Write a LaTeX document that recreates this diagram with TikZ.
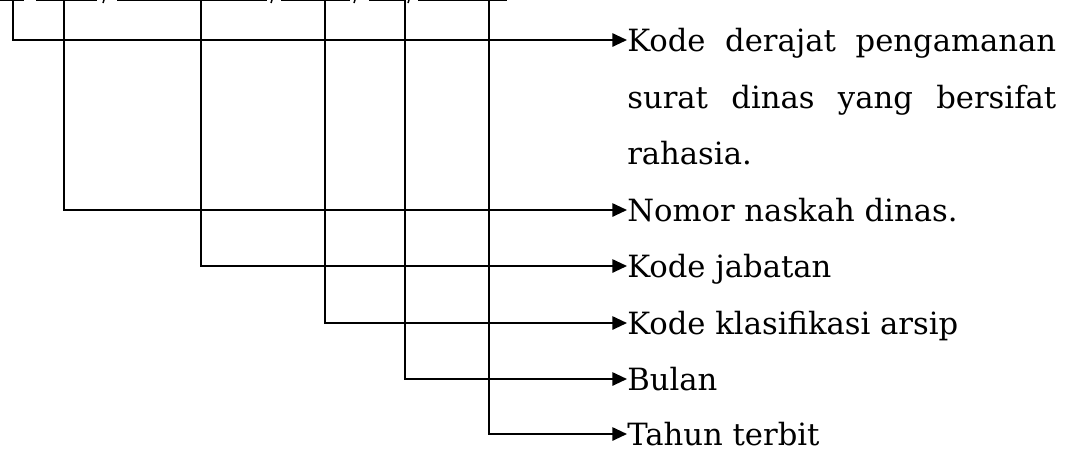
\documentclass[tikz,border=0pt]{standalone}
\usepackage{fontspec}
\setmainfont{DejaVu Serif}
\usetikzlibrary{arrows.meta}
\tikzset{
  conn/.style={line width=1.4pt, -{Triangle[length=11pt,width=10pt]}},
  rule/.style={line width=1.2pt},
  lab/.style={anchor=west, inner sep=0pt, text height=16.8pt, text depth=0pt, font=\fontsize{23pt}{27pt}\selectfont}
}
\begin{document}
\begin{tikzpicture}[x=0.75pt,y=-0.75pt]
\useasboundingbox (0,0) rectangle (1069,451);
% cut-off underlines at the top
\foreach \a/\b in {0/24,36/97,117/267,281/350,369/405,418/507}
  \draw[rule] (\a,0.6) -- (\b,0.6);
\foreach \m in {104,272,355,409}
  \draw[line width=1.1pt] (\m,0) -- (\m-1,3);
% top ends of connectors
\coordinate (t1) at (13,0);
\coordinate (t2) at (64,0);
\coordinate (t3) at (201,0);
\coordinate (t4) at (325,0);
\coordinate (t5) at (405,0);
\coordinate (t6) at (489,0);
% labels
\node[lab] (k1) at (627,40) {\hbox to 321.75pt{Kode\hfill derajat\hfill pengamanan}};
\node[lab] (k1b) at (627,97) {\hbox to 321.75pt{surat\hfill dinas\hfill yang\hfill bersifat}};
\node[lab] (k1c) at (627,153) {rahasia.};
\node[lab] (k2) at (627,210) {Nomor naskah dinas.};
\node[lab] (k3) at (627,266) {Kode jabatan};
\node[lab] (k4) at (627,323) {Kode klasifikasi arsip};
\node[lab] (k5) at (627,379) {Bulan};
\node[lab] (k6) at (627,434) {Tahun terbit};
% connectors
\draw[conn] (t1) |- (k1.west);
\draw[conn] (t2) |- (k2.west);
\draw[conn] (t3) |- (k3.west);
\draw[conn] (t4) |- (k4.west);
\draw[conn] (t5) |- (k5.west);
\draw[conn] (t6) |- (k6.west);
\end{tikzpicture}
\end{document}
